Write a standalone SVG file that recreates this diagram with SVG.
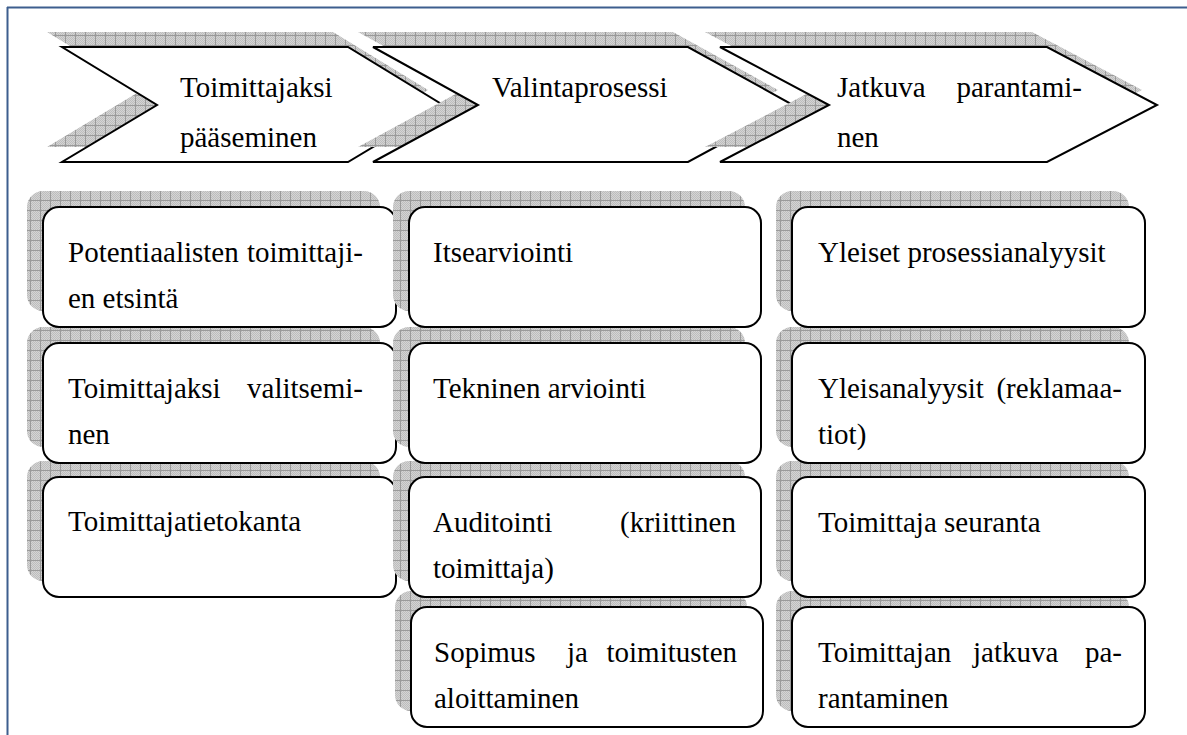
<svg xmlns="http://www.w3.org/2000/svg" width="1187" height="735" viewBox="0 0 1187 735">
  <defs>
    <!-- fine checker texture used under the shadow grid -->
    <pattern id="fine" width="2" height="2" patternUnits="userSpaceOnUse">
      <rect width="2" height="2" fill="#d4d4d4"/>
      <rect width="1" height="1" fill="#bdbdbd"/>
      <rect x="1" y="1" width="1" height="1" fill="#bdbdbd"/>
    </pattern>
    <!-- hatched shadow fill: checker texture plus a 10px grid -->
    <pattern id="hatch" width="10" height="10" patternUnits="userSpaceOnUse">
      <rect width="10" height="10" fill="url(#fine)"/>
      <path d="M0 0.5H10M0.5 0V10" stroke="#9a9a9a" stroke-width="1"/>
    </pattern>
    <style>
      .shape { fill: #ffffff; stroke: #000000; stroke-width: 2; stroke-linejoin: miter; }
      .shadow { fill: url(#hatch); stroke: none; }
      text { font-family: 'Liberation Serif', 'Times New Roman', serif; font-size: 29px; fill: #000000; }
      .end { text-anchor: end; }
    </style>
  </defs>

  <!-- page frame (top and left rules only) -->
  <g id="frame" stroke="#3d5e8e" stroke-width="2" fill="none">
    <path d="M7 7.5H1187"/>
    <path d="M7.5 7V735"/>
  </g>

  <!-- phase chevrons -->
  <g id="phase-1">
    <polygon class="shadow" transform="translate(-15,-15)" points="62,47 348,47 443,105 348,162 62,162 157,105"/>
    <polygon class="shape" points="62,47 348,47 443,105 348,162 62,162 157,105"/>
    <text x="180" y="97">Toimittajaksi</text>
    <text x="180" y="147">pääseminen</text>
  </g>
  <g id="phase-2">
    <polygon class="shadow" transform="translate(-15,-15)" points="373,47 688,47 793,105 688,162 373,162 478,105"/>
    <polygon class="shape" points="373,47 688,47 793,105 688,162 373,162 478,105"/>
    <text x="492" y="97">Valintaprosessi</text>
  </g>
  <g id="phase-3">
    <polygon class="shadow" transform="translate(-15,-15)" points="720,47 1047,47 1157,105 1047,162 720,162 829,105"/>
    <polygon class="shape" points="720,47 1047,47 1157,105 1047,162 720,162 829,105"/>
    <text x="837" y="97">Jatkuva</text>
    <text class="end" x="1082" y="97">parantami-</text>
    <text x="837" y="147">nen</text>
  </g>

  <!-- column 1: drawn bottom-up so each box covers the shadow below it -->
  <g id="c1-r3">
    <rect class="shadow" x="27" y="461" width="353" height="120" rx="16"/>
    <rect class="shape" x="43" y="477" width="353" height="120" rx="16"/>
    <text x="68" y="531">Toimittajatietokanta</text>
  </g>
  <g id="c1-r2">
    <rect class="shadow" x="27" y="327" width="353" height="120" rx="16"/>
    <rect class="shape" x="43" y="343" width="353" height="120" rx="16"/>
    <text x="68" y="398">Toimittajaksi</text>
    <text class="end" x="363" y="398">valitsemi-</text>
    <text x="68" y="444">nen</text>
  </g>
  <g id="c1-r1">
    <rect class="shadow" x="27" y="191" width="353" height="120" rx="16"/>
    <rect class="shape" x="43" y="207" width="353" height="120" rx="16"/>
    <text x="68" y="262">Potentiaalisten</text>
    <text class="end" x="363" y="262">toimittaji-</text>
    <text x="68" y="308">en etsintä</text>
  </g>

  <!-- column 2 -->
  <g id="c2-r4">
    <rect class="shadow" x="395" y="591" width="352" height="120" rx="16"/>
    <rect class="shape" x="411" y="607" width="352" height="120" rx="16"/>
    <text x="434" y="662">Sopimus</text>
    <text x="567" y="662">ja</text>
    <text class="end" x="737" y="662">toimitusten</text>
    <text x="434" y="708">aloittaminen</text>
  </g>
  <g id="c2-r3">
    <rect class="shadow" x="393" y="461" width="352" height="120" rx="16"/>
    <rect class="shape" x="409" y="477" width="352" height="120" rx="16"/>
    <text x="433" y="532">Auditointi</text>
    <text class="end" x="736" y="532">(kriittinen</text>
    <text x="433" y="578">toimittaja)</text>
  </g>
  <g id="c2-r2">
    <rect class="shadow" x="393" y="327" width="352" height="120" rx="16"/>
    <rect class="shape" x="409" y="343" width="352" height="120" rx="16"/>
    <text x="433" y="398">Tekninen arviointi</text>
  </g>
  <g id="c2-r1">
    <rect class="shadow" x="393" y="191" width="352" height="120" rx="16"/>
    <rect class="shape" x="409" y="207" width="352" height="120" rx="16"/>
    <text x="433" y="262">Itsearviointi</text>
  </g>

  <!-- column 3 -->
  <g id="c3-r4">
    <rect class="shadow" x="776" y="591" width="353" height="120" rx="16"/>
    <rect class="shape" x="792" y="607" width="353" height="120" rx="16"/>
    <text x="818" y="662">Toimittajan</text>
    <text x="973" y="662">jatkuva</text>
    <text class="end" x="1122" y="662">pa-</text>
    <text x="818" y="708">rantaminen</text>
  </g>
  <g id="c3-r3">
    <rect class="shadow" x="776" y="461" width="353" height="120" rx="16"/>
    <rect class="shape" x="792" y="477" width="353" height="120" rx="16"/>
    <text x="818" y="532">Toimittaja seuranta</text>
  </g>
  <g id="c3-r2">
    <rect class="shadow" x="776" y="327" width="353" height="120" rx="16"/>
    <rect class="shape" x="792" y="343" width="353" height="120" rx="16"/>
    <text x="818" y="398">Yleisanalyysit</text>
    <text class="end" x="1122" y="398">(reklamaa-</text>
    <text x="818" y="444">tiot)</text>
  </g>
  <g id="c3-r1">
    <rect class="shadow" x="776" y="191" width="353" height="120" rx="16"/>
    <rect class="shape" x="792" y="207" width="353" height="120" rx="16"/>
    <text x="818" y="262">Yleiset prosessianalyysit</text>
  </g>
</svg>
